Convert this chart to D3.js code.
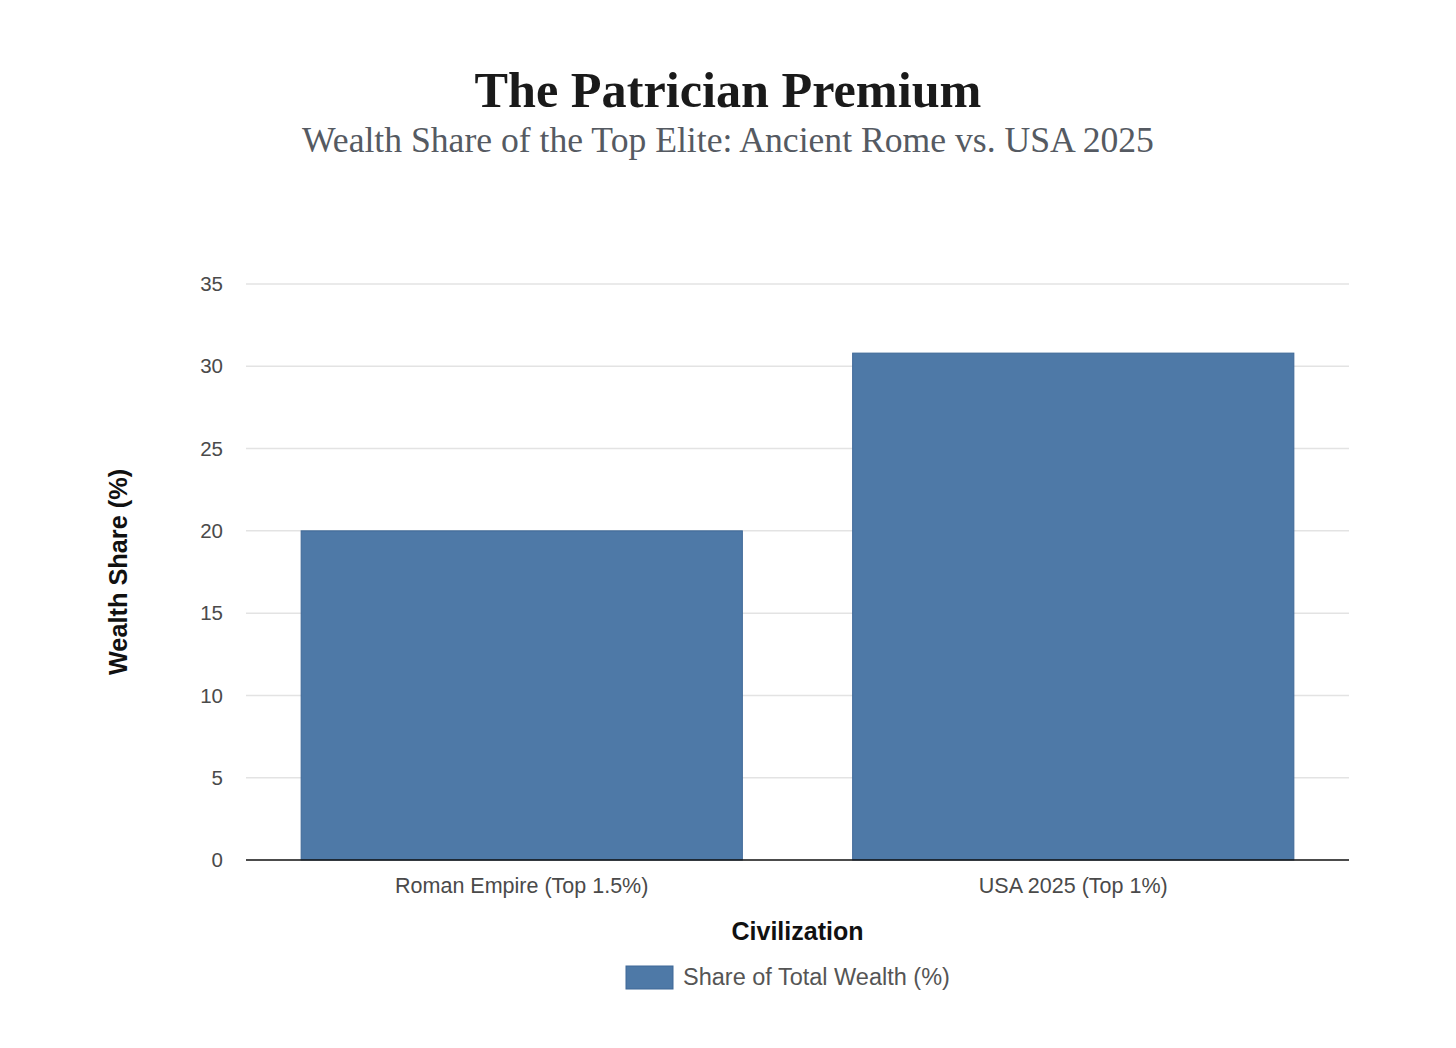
<!DOCTYPE html>
<html>
<head>
<meta charset="utf-8">
<script src="https://cdn.jsdelivr.net/npm/d3@7"></script>
<style>
  body { margin: 0; background: #fff; }
  svg { display: block; }
</style>
</head>
<body>
<script>
const categories = ['Roman Empire (Top 1.5%)', 'USA 2025 (Top 1%)'];
const shares = [20, 30.8];
const yTicks = [0, 5, 10, 15, 20, 25, 30, 35];
const seriesName = 'Share of Total Wealth (%)';

const W = 1456, H = 1048;
const margin = { left: 246, right: 107, top: 284, bottom: 188 };

const svg = d3.select('body').append('svg')
  .attr('width', W)
  .attr('height', H);

// fit a text to a wanted width by changing its font size
function fitWidth(sel, target) {
  const w = sel.node().getComputedTextLength();
  const fs = parseFloat(sel.attr('font-size'));
  sel.attr('font-size', fs * target / w);
}

const title = svg.append('text')
  .attr('x', 728).attr('y', 107)
  .attr('text-anchor', 'middle')
  .attr('font-family', 'Liberation Serif, DejaVu Serif, serif')
  .attr('font-weight', 'bold')
  .attr('font-size', 46)
  .attr('fill', '#1a1a1a')
  .text('The Patrician Premium');
fitWidth(title, 507);

const sub = svg.append('text')
  .attr('x', 728).attr('y', 152)
  .attr('text-anchor', 'middle')
  .attr('font-family', 'Liberation Serif, DejaVu Serif, serif')
  .attr('font-size', 32)
  .attr('fill', '#555a62')
  .text('Wealth Share of the Top Elite: Ancient Rome vs. USA 2025');
fitWidth(sub, 852);

const x = d3.scaleBand()
  .domain(categories)
  .range([margin.left, W - margin.right])
  .paddingInner(0.2)
  .paddingOuter(0.1);

const y = d3.scaleLinear()
  .domain([0, 35])
  .range([H - margin.bottom, margin.top]);

// grid
svg.append('g')
  .selectAll('line')
  .data(yTicks.slice(1))
  .enter().append('line')
  .attr('x1', margin.left).attr('x2', W - margin.right)
  .attr('y1', d => y(d)).attr('y2', d => y(d))
  .attr('stroke', '#e3e3e3')
  .attr('stroke-width', 1.5);

// y tick labels
svg.append('g')
  .selectAll('text')
  .data(yTicks)
  .enter().append('text')
  .attr('x', 223)
  .attr('y', d => y(d))
  .attr('dy', '0.35em')
  .attr('text-anchor', 'end')
  .attr('font-family', 'Liberation Sans, Arial, sans-serif')
  .attr('font-size', 20.5)
  .attr('fill', '#4a4a4a')
  .text(d => d);

// bars
svg.append('g')
  .selectAll('rect')
  .data(shares)
  .enter().append('rect')
  .attr('x', (d, i) => x(categories[i]))
  .attr('y', d => y(d))
  .attr('width', x.bandwidth())
  .attr('height', d => y(0) - y(d))
  .attr('fill', '#4e79a7')
  .attr('stroke', '#3e6897')
  .attr('stroke-width', 1);

// baseline
svg.append('line')
  .attr('x1', margin.left).attr('x2', W - margin.right)
  .attr('y1', y(0)).attr('y2', y(0))
  .attr('stroke', '#111')
  .attr('stroke-width', 1.5);

// x tick labels
svg.append('g')
  .selectAll('text')
  .data(categories)
  .enter().append('text')
  .attr('x', d => x(d) + x.bandwidth() / 2)
  .attr('y', 893)
  .attr('text-anchor', 'middle')
  .attr('font-family', 'Liberation Sans, Arial, sans-serif')
  .attr('font-size', 21.5)
  .attr('fill', '#4a4a4a')
  .text(d => d);

// axis titles
svg.append('text')
  .attr('x', (margin.left + W - margin.right) / 2)
  .attr('y', 940)
  .attr('text-anchor', 'middle')
  .attr('font-family', 'Liberation Sans, Arial, sans-serif')
  .attr('font-weight', 'bold')
  .attr('font-size', 25)
  .attr('fill', '#111')
  .text('Civilization');

svg.append('text')
  .attr('transform', 'translate(127,' + ((margin.top + H - margin.bottom) / 2) + ')rotate(-90)')
  .attr('text-anchor', 'middle')
  .attr('font-family', 'Liberation Sans, Arial, sans-serif')
  .attr('font-weight', 'bold')
  .attr('font-size', 25.3)
  .attr('fill', '#111')
  .text('Wealth Share (%)');

// legend
const lg = svg.append('g');
lg.append('rect')
  .attr('x', 626).attr('y', 966)
  .attr('width', 47).attr('height', 23)
  .attr('fill', '#4e79a7')
  .attr('stroke', '#3e6897');
lg.append('text')
  .attr('x', 683).attr('y', 985)
  .attr('font-family', 'Liberation Sans, Arial, sans-serif')
  .attr('font-size', 23.5)
  .attr('fill', '#555')
  .text(seriesName);
</script>
</body>
</html>
